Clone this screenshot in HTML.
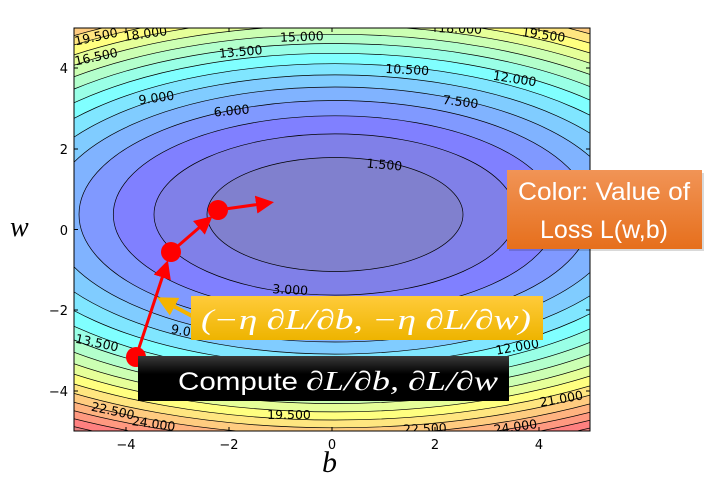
<!DOCTYPE html>
<html><head><meta charset="utf-8"><style>
html,body{margin:0;padding:0;background:#fff;}
svg{display:block;}
.lbl{font-family:"DejaVu Sans","Liberation Sans",sans-serif;font-size:12.5px;fill:#000;text-anchor:middle;}
.tk{font-family:"DejaVu Sans","Liberation Sans",sans-serif;font-size:13px;fill:#000;}
</style></head><body>
<svg width="709" height="478" viewBox="0 0 709 478" xmlns="http://www.w3.org/2000/svg">
<defs>
<clipPath id="pc"><rect x="74" y="28" width="516" height="403"/></clipPath>
<linearGradient id="og" x1="0" y1="0" x2="0" y2="1"><stop offset="0" stop-color="#f19456"/><stop offset="1" stop-color="#e66f1c"/></linearGradient>
<linearGradient id="yg" x1="0" y1="0" x2="0" y2="1"><stop offset="0" stop-color="#ffcb3a"/><stop offset="1" stop-color="#eeb400"/></linearGradient>
<linearGradient id="bg" x1="0" y1="0" x2="0" y2="1"><stop offset="0" stop-color="#3a3a3a"/><stop offset="0.4" stop-color="#000"/><stop offset="1" stop-color="#000"/></linearGradient>
<marker id="ah" markerWidth="6" markerHeight="6" refX="4" refY="3" orient="auto" markerUnits="strokeWidth"><path d="M0,0 L6,3 L0,6 z" fill="#ff0000"/></marker>
<marker id="ahy" markerWidth="5" markerHeight="5" refX="3" refY="2.5" orient="auto" markerUnits="strokeWidth"><path d="M0,0 L5,2.5 L0,5 z" fill="#f5b400"/></marker>
</defs>
<g clip-path="url(#pc)" stroke="#000" stroke-width="0.7">
<rect x="74" y="28" width="516" height="403" fill="rgb(190,128,128)" stroke="none"/>
<ellipse cx="335" cy="214.5" rx="572.4" ry="254.9" fill="rgb(204,128,128)"/>
<ellipse cx="335" cy="214.5" rx="557.9" ry="248.5" fill="rgb(230,128,128)"/>
<ellipse cx="335" cy="214.5" rx="543.1" ry="241.8" fill="rgb(255,128,128)"/>
<ellipse cx="335" cy="214.5" rx="527.7" ry="235" fill="rgb(255,153,128)"/>
<ellipse cx="335" cy="214.5" rx="512" ry="228" fill="rgb(255,179,128)"/>
<ellipse cx="335" cy="214.5" rx="495.7" ry="220.8" fill="rgb(255,204,128)"/>
<ellipse cx="335" cy="214.5" rx="479" ry="213.3" fill="rgb(255,230,128)"/>
<ellipse cx="335" cy="214.5" rx="461.6" ry="205.5" fill="rgb(255,255,128)"/>
<ellipse cx="335" cy="214.5" rx="443.4" ry="197.4" fill="rgb(230,255,153)"/>
<ellipse cx="335" cy="214.5" rx="424.6" ry="189.1" fill="rgb(204,255,179)"/>
<ellipse cx="335" cy="214.5" rx="404.7" ry="180.2" fill="rgb(179,255,204)"/>
<ellipse cx="335" cy="214.5" rx="384" ry="171" fill="rgb(153,255,230)"/>
<ellipse cx="335" cy="214.5" rx="362" ry="161.2" fill="rgb(128,255,255)"/>
<ellipse cx="335" cy="214.5" rx="338.7" ry="150.8" fill="rgb(128,230,255)"/>
<ellipse cx="335" cy="214.5" rx="313.5" ry="139.6" fill="rgb(128,204,255)"/>
<ellipse cx="335" cy="214.5" rx="286.2" ry="127.5" fill="rgb(128,179,255)"/>
<ellipse cx="335" cy="214.5" rx="256" ry="114" fill="rgb(128,153,255)"/>
<ellipse cx="335" cy="214.5" rx="221.7" ry="98.7" fill="rgb(128,128,255)"/>
<ellipse cx="335" cy="214.5" rx="181" ry="80.6" fill="rgb(128,128,232)"/>
<ellipse cx="335" cy="214.5" rx="128" ry="57" fill="rgb(128,128,206)"/>
</g>
<g clip-path="url(#pc)">
<text class="lbl" transform="translate(97,41) rotate(-12)">19.500</text>
<text class="lbl" transform="translate(146,38) rotate(-8)">18.000</text>
<text class="lbl" transform="translate(97,61) rotate(-12)">16.500</text>
<text class="lbl" transform="translate(241,56) rotate(-5)">13.500</text>
<text class="lbl" transform="translate(302,41) rotate(-2)">15.000</text>
<text class="lbl" transform="translate(460,33) rotate(2)">18.000</text>
<text class="lbl" transform="translate(543,39) rotate(8)">19.500</text>
<text class="lbl" transform="translate(407,74) rotate(3)">10.500</text>
<text class="lbl" transform="translate(514,83) rotate(9)">12.000</text>
<text class="lbl" transform="translate(460,106) rotate(7)">7.500</text>
<text class="lbl" transform="translate(157,102) rotate(-8)">9.000</text>
<text class="lbl" transform="translate(232,115) rotate(-5)">6.000</text>
<text class="lbl" transform="translate(384,169) rotate(5)">1.500</text>
<text class="lbl" transform="translate(290,294) rotate(3)">3.000</text>
<text class="lbl" transform="translate(188,336) rotate(10)">9.000</text>
<text class="lbl" transform="translate(96,347) rotate(12)">13.500</text>
<text class="lbl" transform="translate(518,351) rotate(-10)">12.000</text>
<text class="lbl" transform="translate(112,415) rotate(12)">22.500</text>
<text class="lbl" transform="translate(153,428) rotate(8)">24.000</text>
<text class="lbl" transform="translate(289,419) rotate(0)">19.500</text>
<text class="lbl" transform="translate(562,403) rotate(-10)">21.000</text>
<text class="lbl" transform="translate(425,433) rotate(-2)">22.500</text>
<text class="lbl" transform="translate(516,431) rotate(-8)">24.000</text>
</g>
<rect x="74" y="28" width="516" height="403" fill="none" stroke="#000" stroke-width="1"/>
<g stroke="#000" stroke-width="1">
<line x1="126" y1="431" x2="126" y2="427"/><line x1="229" y1="431" x2="229" y2="427"/><line x1="332" y1="431" x2="332" y2="427"/><line x1="435" y1="431" x2="435" y2="427"/><line x1="539" y1="431" x2="539" y2="427"/>
<line x1="126" y1="28" x2="126" y2="32"/><line x1="229" y1="28" x2="229" y2="32"/><line x1="332" y1="28" x2="332" y2="32"/><line x1="435" y1="28" x2="435" y2="32"/><line x1="539" y1="28" x2="539" y2="32"/>
<line x1="74" y1="68" x2="78" y2="68"/><line x1="74" y1="149" x2="78" y2="149"/><line x1="74" y1="229.5" x2="78" y2="229.5"/><line x1="74" y1="310" x2="78" y2="310"/><line x1="74" y1="391" x2="78" y2="391"/>
<line x1="590" y1="68" x2="586" y2="68"/><line x1="590" y1="149" x2="586" y2="149"/><line x1="590" y1="229.5" x2="586" y2="229.5"/><line x1="590" y1="310" x2="586" y2="310"/><line x1="590" y1="391" x2="586" y2="391"/>
</g>
<g class="tk">
<text x="126" y="449" text-anchor="middle">−4</text><text x="229" y="449" text-anchor="middle">−2</text><text x="332" y="449" text-anchor="middle">0</text><text x="435" y="449" text-anchor="middle">2</text><text x="539" y="449" text-anchor="middle">4</text>
<text x="68" y="73" text-anchor="end">4</text><text x="68" y="154" text-anchor="end">2</text><text x="68" y="235" text-anchor="end">0</text><text x="68" y="315" text-anchor="end">−2</text><text x="68" y="396" text-anchor="end">−4</text>
</g>
<text x="10" y="236" font-family="Liberation Serif,serif" font-style="italic" font-size="28">w</text>
<text x="322" y="472" font-family="Liberation Serif,serif" font-style="italic" font-size="30">b</text>
<g stroke="#ff0000" stroke-width="3" fill="none">
<line x1="136" y1="357" x2="166" y2="266" marker-end="url(#ah)"/>
<line x1="171" y1="252" x2="208" y2="220" marker-end="url(#ah)"/>
<line x1="218" y1="210" x2="268" y2="203" marker-end="url(#ah)"/>
</g>
<g fill="#ff0000">
<circle cx="136" cy="357" r="10"/><circle cx="171" cy="252" r="10"/><circle cx="218" cy="210" r="10"/>
</g>
<line x1="192" y1="316" x2="164" y2="301" stroke="#f5b400" stroke-width="4" marker-end="url(#ahy)"/>
<rect x="509" y="173" width="195" height="78" fill="#000" opacity="0.15"/>
<rect x="507" y="170" width="195" height="79" fill="url(#og)"/>
<text x="518" y="200" textLength="172" lengthAdjust="spacingAndGlyphs" font-family="Liberation Sans,sans-serif" font-size="25" fill="#fff">Color: Value of</text>
<text x="540" y="238" textLength="128" lengthAdjust="spacingAndGlyphs" font-family="Liberation Sans,sans-serif" font-size="25" fill="#fff">Loss L(w,b)</text>
<rect x="191" y="296" width="352" height="44" fill="url(#yg)"/>
<text x="201" y="329" textLength="330" lengthAdjust="spacingAndGlyphs" font-family="Liberation Serif,serif" font-style="italic" font-size="28" fill="#fff">(−η ∂L/∂b, −η ∂L/∂w)</text>
<rect x="138" y="356" width="371" height="45" fill="url(#bg)"/>
<text x="178" y="390" font-size="25" fill="#fff"><tspan font-family="Liberation Sans,sans-serif" textLength="120" lengthAdjust="spacingAndGlyphs">Compute</tspan><tspan x="306" font-family="Liberation Serif,serif" font-style="italic" font-size="27" textLength="192" lengthAdjust="spacingAndGlyphs">∂L/∂b, ∂L/∂w</tspan></text>
</svg>
</body></html>
